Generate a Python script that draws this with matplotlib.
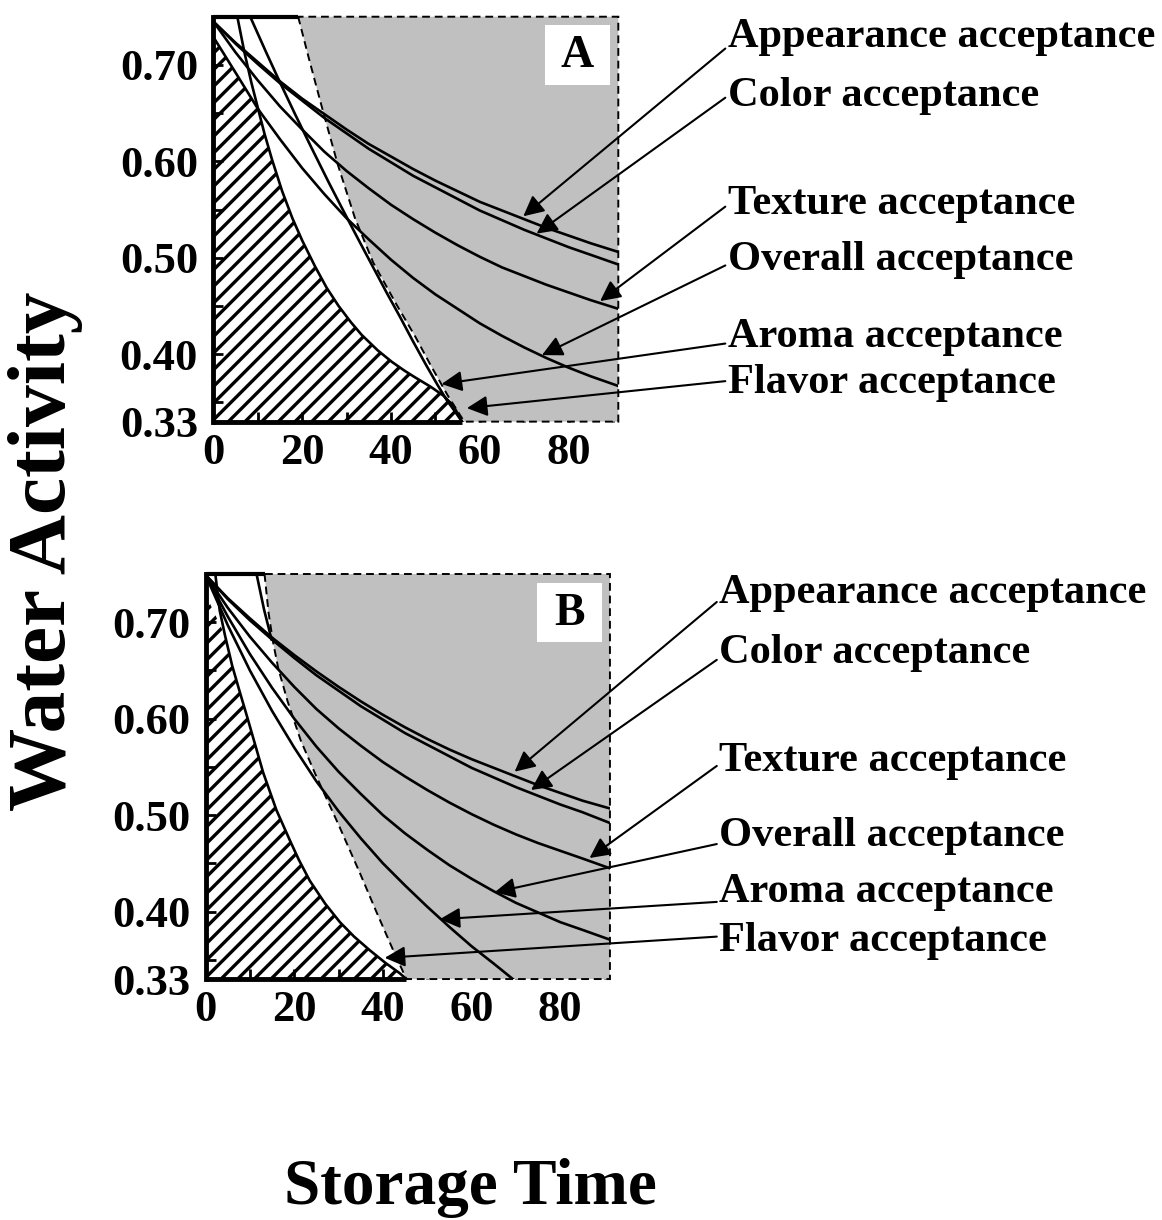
import numpy as np
import matplotlib.pyplot as plt
from matplotlib.patches import Polygon, Rectangle

plt.rcParams['font.family'] = ['Liberation Serif', 'DejaVu Serif']
plt.rcParams['font.weight'] = 'bold'
plt.rcParams['hatch.linewidth'] = 2.4

T_MAX = 91.2
AW_MIN, AW_MAX = 0.33, 0.75

labels = ['Appearance acceptance', 'Color acceptance', 'Texture acceptance',
          'Overall acceptance', 'Aroma acceptance', 'Flavor acceptance']

# ---- panel A : storage time (days) vs water activity along each limit curve
a_appearance_t = [0, 5, 10, 15, 20, 25, 30, 35, 40, 45, 50, 55, 60, 65, 70, 75, 80, 85, 91.2]
a_appearance_aw = [0.745, 0.723, 0.703, 0.683, 0.665, 0.649, 0.633, 0.618, 0.605, 0.592,
                   0.580, 0.569, 0.558, 0.549, 0.540, 0.531, 0.523, 0.515, 0.506]
a_color_t = [0, 5, 10, 15, 20, 25, 30, 35, 40, 45, 50, 55, 60, 65, 70, 75, 80, 85, 91.2]
a_color_aw = [0.745, 0.722, 0.701, 0.681, 0.663, 0.645, 0.629, 0.613, 0.599, 0.585,
              0.573, 0.561, 0.549, 0.539, 0.529, 0.520, 0.511, 0.503, 0.493]
a_texture_t = [0, 5, 10, 15, 20, 25, 30, 35, 40, 45, 50, 55, 60, 65, 70, 75, 80, 85, 91.2]
a_texture_aw = [0.745, 0.713, 0.684, 0.657, 0.633, 0.610, 0.590, 0.572, 0.555, 0.540,
                0.526, 0.513, 0.501, 0.490, 0.481, 0.472, 0.464, 0.456, 0.447]
a_overall_t = [0, 5, 10.1, 15, 20, 25, 30, 35, 40, 45, 50, 55, 60, 65, 70, 75, 80, 85, 91.2]
a_overall_aw = [0.729, 0.692, 0.654, 0.623, 0.593, 0.566, 0.541, 0.519, 0.498, 0.479,
                0.462, 0.447, 0.432, 0.419, 0.407, 0.396, 0.386, 0.377, 0.367]
a_aroma_t = [8.3, 12, 15, 18.5, 22, 26, 29.7, 33, 36, 39, 42, 45, 48, 50.5, 52.6, 54.5, 56]
a_aroma_aw = [0.75, 0.712, 0.682, 0.648, 0.615, 0.578, 0.545, 0.516, 0.490, 0.464,
              0.439, 0.413, 0.388, 0.368, 0.352, 0.340, 0.33]
a_flavor_t = [5.4, 7, 8.6, 10.1, 11.5, 13.2, 15.5, 17.8, 20, 22.9, 25.5, 28.2, 31,
              33.4, 37, 40.2, 43, 45.4, 49, 51.8, 54, 56]
a_flavor_aw = [0.75, 0.713, 0.681, 0.654, 0.629, 0.602, 0.569, 0.541, 0.518, 0.491,
               0.469, 0.450, 0.433, 0.420, 0.404, 0.392, 0.383, 0.376, 0.366, 0.357,
               0.347, 0.33]
a_limit_t = [19.1, 21.5, 24.4, 28, 31.9, 36, 41.3, 45.5, 49, 52.8, 56.5]
a_limit_aw = [0.75, 0.707, 0.657, 0.597, 0.541, 0.495, 0.451, 0.418, 0.388, 0.357, 0.33]
a_tip_t = [69.8, 72.8, 87.1, 74, 51.4, 57.1]
a_tip_aw = [0.543, 0.525, 0.455, 0.399, 0.369, 0.344]

# ---- panel B
b_appearance_t = [0, 5, 10, 15, 20, 25, 30, 35, 40, 45, 50, 55, 60, 65, 70, 75, 80, 85, 91.1]
b_appearance_aw = [0.749, 0.725, 0.704, 0.684, 0.666, 0.649, 0.633, 0.618, 0.604, 0.591,
                   0.579, 0.568, 0.558, 0.549, 0.540, 0.531, 0.523, 0.515, 0.507]
b_color_t = [0, 5, 10, 15, 20, 25, 30, 35, 40, 45, 50, 55, 60, 65, 70, 75, 80, 85, 91.1]
b_color_aw = [0.749, 0.724, 0.702, 0.682, 0.663, 0.645, 0.629, 0.613, 0.599, 0.585,
              0.573, 0.561, 0.549, 0.539, 0.529, 0.520, 0.511, 0.503, 0.492]
b_texture_t = [0, 5, 10, 15, 20, 25, 30, 35, 40, 45, 50, 55, 60, 65, 70, 75, 80, 85, 91.1]
b_texture_aw = [0.749, 0.715, 0.685, 0.658, 0.633, 0.610, 0.590, 0.572, 0.555, 0.540,
                0.526, 0.513, 0.501, 0.490, 0.480, 0.471, 0.463, 0.455, 0.445]
b_overall_t = [0, 5, 10, 15, 20, 25, 30, 35, 40, 45, 50, 55, 60, 65, 70, 75, 80, 85, 91.1]
b_overall_aw = [0.749, 0.706, 0.667, 0.632, 0.600, 0.571, 0.545, 0.522, 0.500, 0.481,
                0.464, 0.448, 0.434, 0.421, 0.409, 0.399, 0.389, 0.381, 0.371]
b_aroma_t = [0, 5, 10, 15, 20, 25, 30, 35, 40, 45, 50, 55, 60, 65, 69.3]
b_aroma_aw = [0.749, 0.697, 0.650, 0.608, 0.570, 0.535, 0.504, 0.476, 0.450, 0.427,
              0.405, 0.384, 0.364, 0.346, 0.33]
b_flavor_t = [2.2, 3.2, 4.4, 6, 7.7, 9.5, 11.5, 13, 16, 19, 21, 23.5, 27, 30.3, 33.5,
              37, 40.5, 43.8, 45.3]
b_flavor_aw = [0.75, 0.712, 0.686, 0.655, 0.628, 0.600, 0.568, 0.544, 0.505, 0.474,
               0.454, 0.432, 0.408, 0.389, 0.374, 0.360, 0.347, 0.336, 0.33]
b_limit_t = [13.3, 14.2, 15.2, 16.4, 18.5, 21.5, 25, 30, 34.8, 38.5, 42.3, 45.3]
b_limit_aw = [0.75, 0.71, 0.68, 0.652, 0.618, 0.577, 0.540, 0.49, 0.440, 0.40,
              0.360, 0.33]
# short solid edge meeting the dashed limit near the top
b_cap_t = [11.5, 13.2, 14.9]
b_cap_aw = [0.75, 0.713, 0.682]
b_tip_t = [69.7, 73.4, 86.6, 65.2, 52.8, 40.4]
b_tip_aw = [0.545, 0.526, 0.4555, 0.420, 0.392, 0.352]


def draw_panel(ax, curves, edge, limit, tips, label_aw, tail_aw, letter):
    ax.set_xlim(0, T_MAX)
    ax.set_ylim(AW_MIN, AW_MAX)
    ax.set_axisbelow(True)

    # unacceptable zone right of the dashed limit
    lt, la = limit
    gray = Polygon(list(zip(lt, la)) + [(T_MAX, AW_MIN), (T_MAX, AW_MAX)],
                   closed=True, fc='#c0c0c0', ec='black', lw=1.4,
                   ls=(0, (4, 2.5)), zorder=1, clip_on=False)
    ax.add_patch(gray)

    # hatched zone under the lowest curves
    et, ea = edge
    hatch = Polygon([(0, AW_MIN)] + list(zip(et, ea)) + [(et[-1], AW_MIN)],
                    closed=True, fc='none', ec='black', lw=0, hatch='//',
                    zorder=1.5)
    ax.add_patch(hatch)

    for t, aw in curves:
        ax.plot(t, aw, color='black', lw=1.9, zorder=3)

    # solid frame pieces
    ax.plot([0, lt[0]], [AW_MAX, AW_MAX], color='black', lw=3, zorder=4,
            clip_on=False, solid_capstyle='butt')
    ax.plot([0, et[-1]], [AW_MIN, AW_MIN], color='black', lw=3.5, zorder=4,
            clip_on=False, solid_capstyle='butt')
    for side in ['top', 'right', 'bottom']:
        ax.spines[side].set_visible(False)
    ax.spines['left'].set_linewidth(3.5)
    ax.spines['left'].set_zorder(4)

    for (tx, ty), lab, ly, tail in zip(tips, labels, label_aw, tail_aw):
        ax.annotate('', xy=(tx, ty), xytext=(115.3, tail),
                    arrowprops=dict(arrowstyle='-|>', color='black', lw=1.5,
                                    mutation_scale=31, shrinkA=0, shrinkB=0),
                    annotation_clip=False, zorder=5)
        ax.text(115.9, ly, lab, fontsize=30.5, ha='left', va='center',
                clip_on=False)

    ax.add_patch(Rectangle((74.7, 0.679), 14.6, 0.062, fc='white', ec='none',
                           zorder=5))
    ax.text(82.0, 0.709, letter, fontsize=33, ha='center', va='center', zorder=6)

    ax.set_xticks([0, 20, 40, 60, 80])
    ax.set_xticks([10, 30, 50, 70, 90], minor=True)
    ax.set_yticks([0.70, 0.60, 0.50, 0.40, 0.33])
    ax.set_yticklabels(['0.70', '0.60', '0.50', '0.40', '0.33'])
    ax.set_yticks([0.35, 0.45, 0.55, 0.65], minor=True)
    ax.tick_params(which='both', direction='in', length=7, width=2,
                   labelsize=32)
    ax.tick_params(axis='y', which='both', pad=11)
    ax.tick_params(axis='x', which='both', pad=8)


fig = plt.figure(figsize=(11.62, 12.2), dpi=100)
ax_a = fig.add_axes([0.1836, 0.6544, 0.3485, 0.3319])
ax_b = fig.add_axes([0.1769, 0.1975, 0.3480, 0.3320])

a_curves = [(a_appearance_t, a_appearance_aw), (a_color_t, a_color_aw),
            (a_texture_t, a_texture_aw), (a_overall_t, a_overall_aw),
            (a_aroma_t, a_aroma_aw), (a_flavor_t, a_flavor_aw)]
# hatched edge: overall up to where it meets flavor, then flavor
a_edge = (a_overall_t[:2] + a_flavor_t[3:], a_overall_aw[:2] + a_flavor_aw[3:])
draw_panel(ax_a, a_curves, a_edge, (a_limit_t, a_limit_aw),
           list(zip(a_tip_t, a_tip_aw)),
           [0.729, 0.668, 0.556, 0.498, 0.418, 0.370],
           [0.717, 0.666, 0.553, 0.492, 0.411, 0.372], 'A')

b_curves = [(b_appearance_t, b_appearance_aw), (b_color_t, b_color_aw),
            (b_texture_t, b_texture_aw), (b_overall_t, b_overall_aw),
            (b_aroma_t, b_aroma_aw), (b_flavor_t, b_flavor_aw),
            (b_cap_t, b_cap_aw)]
b_edge = ([0] + b_flavor_t[2:], [0.729] + b_flavor_aw[2:])
draw_panel(ax_b, b_curves, b_edge, (b_limit_t, b_limit_aw),
           list(zip(b_tip_t, b_tip_aw)),
           [0.730, 0.668, 0.556, 0.478, 0.420, 0.369],
           [0.721, 0.661, 0.551, 0.470, 0.410, 0.374], 'B')

fig.text(0.039, 0.548, 'Water Activity', rotation=90, fontsize=60,
         ha='center', va='center')
fig.text(0.405, 0.026, 'Storage Time', fontsize=47, ha='center', va='center')

fig.savefig('out.png', dpi=100)
